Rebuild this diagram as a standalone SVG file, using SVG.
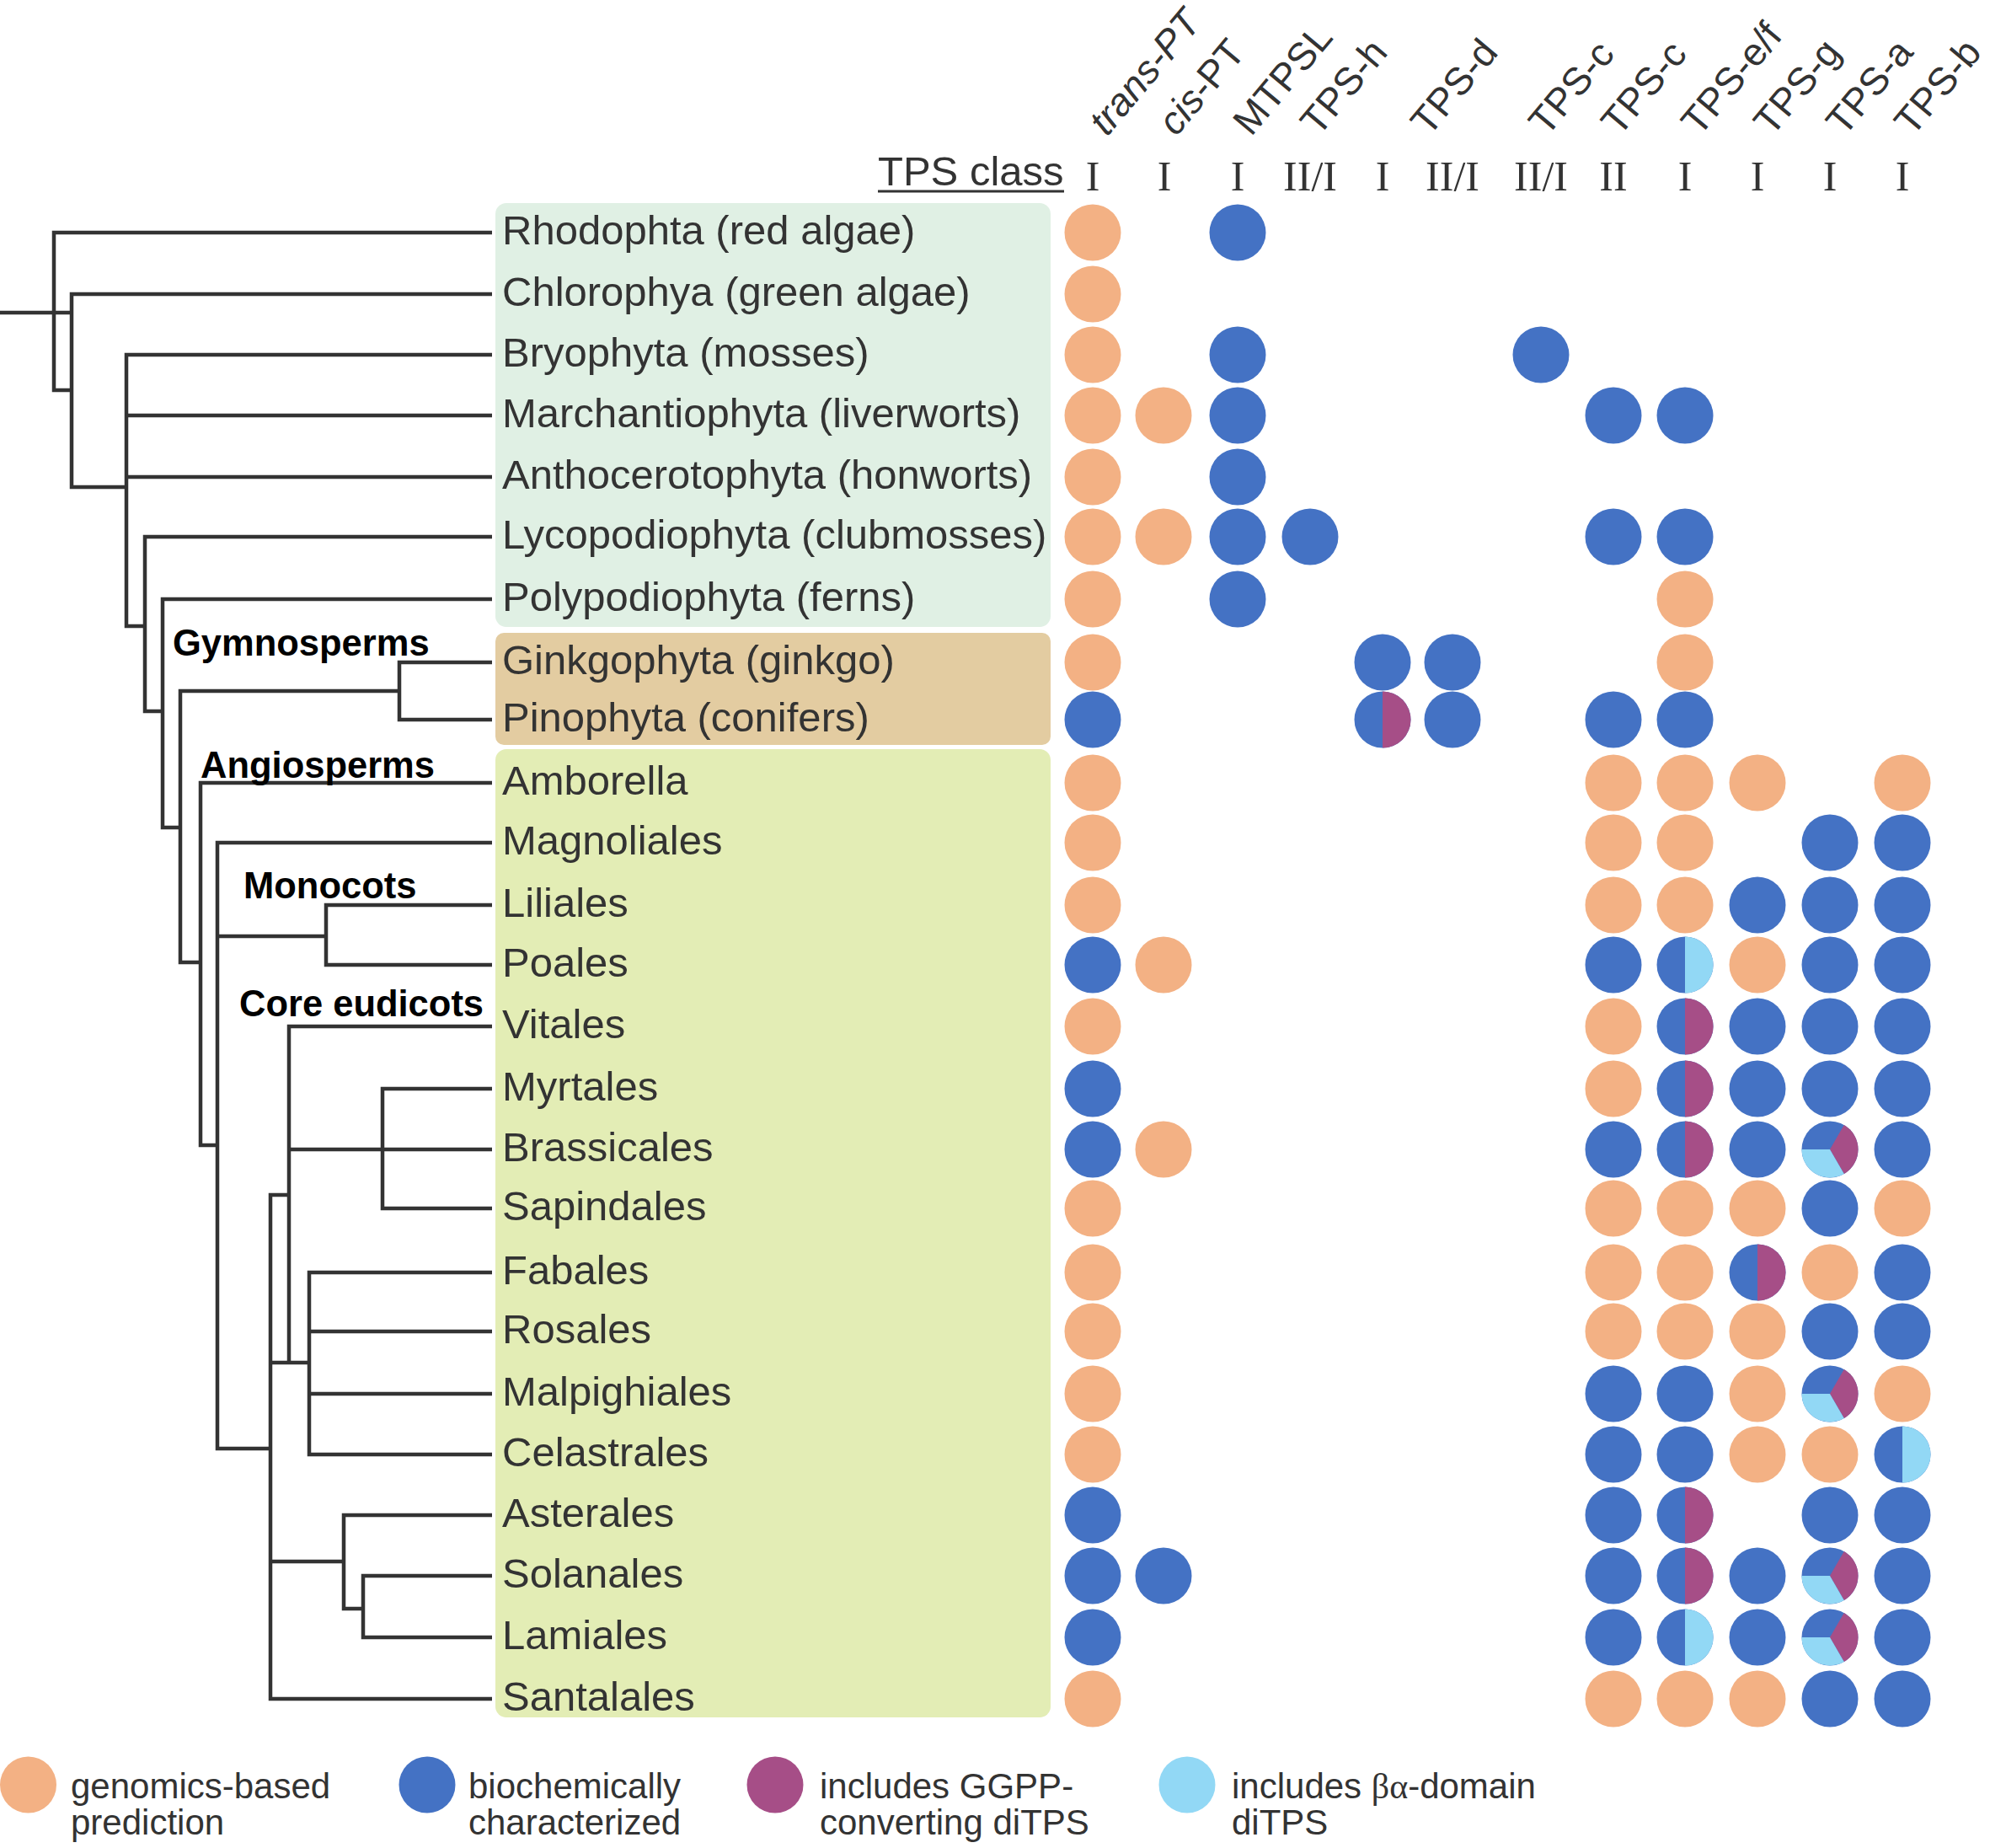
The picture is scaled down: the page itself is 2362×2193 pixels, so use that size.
<svg xmlns="http://www.w3.org/2000/svg" width="2362" height="2193" viewBox="0 0 2362 2193">
<style>
.sp{font-family:"Liberation Sans",Arial,sans-serif;font-size:49px;fill:#333}
.cl{font-family:"Liberation Sans",Arial,sans-serif;font-size:43.5px;font-weight:bold;fill:#000}
.hd{font-family:"Liberation Sans",Arial,sans-serif;font-size:46px;fill:#333}
.rn{font-family:"Liberation Serif","Times New Roman",serif;font-size:50px;fill:#333;text-anchor:middle}
.lg{font-family:"Liberation Sans",Arial,sans-serif;font-size:42px;fill:#333}
.o{fill:#F3B184}.b{fill:#4472C4}.p{fill:#A64E87}.l{fill:#92D8F5}
.tree path{fill:none;stroke:#333;stroke-width:4.5}
</style>
<defs>
<g id="bp"><circle r="33.5" class="b"/><path class="p" d="M0,-33.5 A33.5,33.5 0 0 1 0,33.5 Z"/></g>
<g id="bl"><circle r="33.5" class="b"/><path class="l" d="M0,-33.5 A33.5,33.5 0 0 1 0,33.5 Z"/></g>
<g id="tri"><circle r="33.5" class="b"/><path class="p" d="M0,0 L16.75,-29.01 A33.5,33.5 0 0 1 16.75,29.01 Z"/><path class="l" d="M0,0 L16.75,29.01 A33.5,33.5 0 0 1 -33.5,0 Z"/></g>
</defs>
<rect width="2362" height="2193" fill="#fff"/>

<g id="header">
<text class="hd" font-style="italic" transform="translate(1314,163) rotate(-50)">trans-PT</text>
<text class="hd" transform="translate(1396,163) rotate(-50)"><tspan font-style="italic">cis</tspan>-PT</text>
<text class="hd" transform="translate(1485,163) rotate(-50)">MTPSL</text>
<text class="hd" transform="translate(1565,163) rotate(-50)">TPS-h</text>
<text class="hd" transform="translate(1696,163) rotate(-50)">TPS-d</text>
<text class="hd" transform="translate(1836,163) rotate(-50)">TPS-c</text>
<text class="hd" transform="translate(1922,163) rotate(-50)">TPS-c</text>
<text class="hd" transform="translate(2017,163) rotate(-50)">TPS-e/f</text>
<text class="hd" transform="translate(2103,163) rotate(-50)">TPS-g</text>
<text class="hd" transform="translate(2189,163) rotate(-50)">TPS-a</text>
<text class="hd" transform="translate(2270,163) rotate(-50)">TPS-b</text>
<text class="sp" x="1042" y="220">TPS class</text>
<line x1="1042" y1="227" x2="1263" y2="227" stroke="#333" stroke-width="3"/>
<text class="rn" x="1297" y="226">I</text>
<text class="rn" x="1382" y="226">I</text>
<text class="rn" x="1469" y="226">I</text>
<text class="rn" x="1555" y="226">II/I</text>
<text class="rn" x="1641" y="226">I</text>
<text class="rn" x="1724" y="226">II/I</text>
<text class="rn" x="1829" y="226">II/I</text>
<text class="rn" x="1915" y="226">II</text>
<text class="rn" x="2000" y="226">I</text>
<text class="rn" x="2086" y="226">I</text>
<text class="rn" x="2172" y="226">I</text>
<text class="rn" x="2258" y="226">I</text>
</g>

<g id="panels">
<rect x="588" y="241" width="659" height="503" rx="13" fill="#E0F0E4"/>
<rect x="588" y="751" width="659" height="133" rx="10" fill="#E3CCA1"/>
<rect x="588" y="889" width="659" height="1149" rx="13" fill="#E3EDB5"/>
</g>

<g id="connectors" class="tree">
<path d="M0,371 H85"/>
<path d="M584,276 H64 V463 H85"/>
<path d="M584,349 H85 V578 H150"/>
<path d="M584,421 H150 V743 H172"/>
<path d="M150,493 H584 M150,566 H584"/>
<path d="M584,637 H172 V844 H193"/>
<path d="M584,711 H193 V982 H214"/>
<path d="M474,820 H214 V1142 H238"/>
<path d="M584,786 H474 V854 H584"/>
<path d="M584,929 H238 V1359 H258"/>
<path d="M584,1000 H258 V1719 H321"/>
<path d="M258,1111 H387"/>
<path d="M584,1074 H387 V1145 H584"/>
<path d="M584,1218 H343 V1617"/>
<path d="M343,1364 H584"/>
<path d="M584,1292 H454 V1434 H584"/>
<path d="M343,1418 H321 V2016 H584"/>
<path d="M321,1617 H367"/>
<path d="M584,1510 H367 V1726 H584"/>
<path d="M367,1580 H584 M367,1654 H584"/>
<path d="M321,1853 H408"/>
<path d="M584,1798 H408 V1909 H431"/>
<path d="M584,1870 H431 V1943 H584"/>
</g>

<g id="clades">
<text class="cl" x="205" y="778">Gymnosperms</text>
<text class="cl" x="238" y="923">Angiosperms</text>
<text class="cl" x="289" y="1066">Monocots</text>
<text class="cl" x="284" y="1206">Core eudicots</text>
</g>

<g id="rhodophta"><text class="sp" x="596" y="290">Rhodophta (red algae)</text>
<circle cx="1297" cy="276" r="33.5" class="o"/><circle cx="1469" cy="276" r="33.5" class="b"/></g>
<g id="chlorophya"><text class="sp" x="596" y="363">Chlorophya (green algae)</text>
<circle cx="1297" cy="349" r="33.5" class="o"/></g>
<g id="bryophyta"><text class="sp" x="596" y="435">Bryophyta (mosses)</text>
<circle cx="1297" cy="421" r="33.5" class="o"/><circle cx="1469" cy="421" r="33.5" class="b"/><circle cx="1829" cy="421" r="33.5" class="b"/></g>
<g id="marchantiophyta"><text class="sp" x="596" y="507">Marchantiophyta (liverworts)</text>
<circle cx="1297" cy="493" r="33.5" class="o"/><circle cx="1381" cy="493" r="33.5" class="o"/><circle cx="1469" cy="493" r="33.5" class="b"/><circle cx="1915" cy="493" r="33.5" class="b"/><circle cx="2000" cy="493" r="33.5" class="b"/></g>
<g id="anthocerotophyta"><text class="sp" x="596" y="580">Anthocerotophyta (honworts)</text>
<circle cx="1297" cy="566" r="33.5" class="o"/><circle cx="1469" cy="566" r="33.5" class="b"/></g>
<g id="lycopodiophyta"><text class="sp" x="596" y="651">Lycopodiophyta (clubmosses)</text>
<circle cx="1297" cy="637" r="33.5" class="o"/><circle cx="1381" cy="637" r="33.5" class="o"/><circle cx="1469" cy="637" r="33.5" class="b"/><circle cx="1555" cy="637" r="33.5" class="b"/><circle cx="1915" cy="637" r="33.5" class="b"/><circle cx="2000" cy="637" r="33.5" class="b"/></g>
<g id="polypodiophyta"><text class="sp" x="596" y="725">Polypodiophyta (ferns)</text>
<circle cx="1297" cy="711" r="33.5" class="o"/><circle cx="1469" cy="711" r="33.5" class="b"/><circle cx="2000" cy="711" r="33.5" class="o"/></g>
<g id="ginkgophyta"><text class="sp" x="596" y="800">Ginkgophyta (ginkgo)</text>
<circle cx="1297" cy="786" r="33.5" class="o"/><circle cx="1641" cy="786" r="33.5" class="b"/><circle cx="1724" cy="786" r="33.5" class="b"/><circle cx="2000" cy="786" r="33.5" class="o"/></g>
<g id="pinophyta"><text class="sp" x="596" y="868">Pinophyta (conifers)</text>
<circle cx="1297" cy="854" r="33.5" class="b"/><use href="#bp" x="1641" y="854"/><circle cx="1724" cy="854" r="33.5" class="b"/><circle cx="1915" cy="854" r="33.5" class="b"/><circle cx="2000" cy="854" r="33.5" class="b"/></g>
<g id="amborella"><text class="sp" x="596" y="943">Amborella</text>
<circle cx="1297" cy="929" r="33.5" class="o"/><circle cx="1915" cy="929" r="33.5" class="o"/><circle cx="2000" cy="929" r="33.5" class="o"/><circle cx="2086" cy="929" r="33.5" class="o"/><circle cx="2258" cy="929" r="33.5" class="o"/></g>
<g id="magnoliales"><text class="sp" x="596" y="1014">Magnoliales</text>
<circle cx="1297" cy="1000" r="33.5" class="o"/><circle cx="1915" cy="1000" r="33.5" class="o"/><circle cx="2000" cy="1000" r="33.5" class="o"/><circle cx="2172" cy="1000" r="33.5" class="b"/><circle cx="2258" cy="1000" r="33.5" class="b"/></g>
<g id="liliales"><text class="sp" x="596" y="1088">Liliales</text>
<circle cx="1297" cy="1074" r="33.5" class="o"/><circle cx="1915" cy="1074" r="33.5" class="o"/><circle cx="2000" cy="1074" r="33.5" class="o"/><circle cx="2086" cy="1074" r="33.5" class="b"/><circle cx="2172" cy="1074" r="33.5" class="b"/><circle cx="2258" cy="1074" r="33.5" class="b"/></g>
<g id="poales"><text class="sp" x="596" y="1159">Poales</text>
<circle cx="1297" cy="1145" r="33.5" class="b"/><circle cx="1381" cy="1145" r="33.5" class="o"/><circle cx="1915" cy="1145" r="33.5" class="b"/><use href="#bl" x="2000" y="1145"/><circle cx="2086" cy="1145" r="33.5" class="o"/><circle cx="2172" cy="1145" r="33.5" class="b"/><circle cx="2258" cy="1145" r="33.5" class="b"/></g>
<g id="vitales"><text class="sp" x="596" y="1232">Vitales</text>
<circle cx="1297" cy="1218" r="33.5" class="o"/><circle cx="1915" cy="1218" r="33.5" class="o"/><use href="#bp" x="2000" y="1218"/><circle cx="2086" cy="1218" r="33.5" class="b"/><circle cx="2172" cy="1218" r="33.5" class="b"/><circle cx="2258" cy="1218" r="33.5" class="b"/></g>
<g id="myrtales"><text class="sp" x="596" y="1306">Myrtales</text>
<circle cx="1297" cy="1292" r="33.5" class="b"/><circle cx="1915" cy="1292" r="33.5" class="o"/><use href="#bp" x="2000" y="1292"/><circle cx="2086" cy="1292" r="33.5" class="b"/><circle cx="2172" cy="1292" r="33.5" class="b"/><circle cx="2258" cy="1292" r="33.5" class="b"/></g>
<g id="brassicales"><text class="sp" x="596" y="1378">Brassicales</text>
<circle cx="1297" cy="1364" r="33.5" class="b"/><circle cx="1381" cy="1364" r="33.5" class="o"/><circle cx="1915" cy="1364" r="33.5" class="b"/><use href="#bp" x="2000" y="1364"/><circle cx="2086" cy="1364" r="33.5" class="b"/><use href="#tri" x="2172" y="1364"/><circle cx="2258" cy="1364" r="33.5" class="b"/></g>
<g id="sapindales"><text class="sp" x="596" y="1448">Sapindales</text>
<circle cx="1297" cy="1434" r="33.5" class="o"/><circle cx="1915" cy="1434" r="33.5" class="o"/><circle cx="2000" cy="1434" r="33.5" class="o"/><circle cx="2086" cy="1434" r="33.5" class="o"/><circle cx="2172" cy="1434" r="33.5" class="b"/><circle cx="2258" cy="1434" r="33.5" class="o"/></g>
<g id="fabales"><text class="sp" x="596" y="1524">Fabales</text>
<circle cx="1297" cy="1510" r="33.5" class="o"/><circle cx="1915" cy="1510" r="33.5" class="o"/><circle cx="2000" cy="1510" r="33.5" class="o"/><use href="#bp" x="2086" y="1510"/><circle cx="2172" cy="1510" r="33.5" class="o"/><circle cx="2258" cy="1510" r="33.5" class="b"/></g>
<g id="rosales"><text class="sp" x="596" y="1594">Rosales</text>
<circle cx="1297" cy="1580" r="33.5" class="o"/><circle cx="1915" cy="1580" r="33.5" class="o"/><circle cx="2000" cy="1580" r="33.5" class="o"/><circle cx="2086" cy="1580" r="33.5" class="o"/><circle cx="2172" cy="1580" r="33.5" class="b"/><circle cx="2258" cy="1580" r="33.5" class="b"/></g>
<g id="malpighiales"><text class="sp" x="596" y="1668">Malpighiales</text>
<circle cx="1297" cy="1654" r="33.5" class="o"/><circle cx="1915" cy="1654" r="33.5" class="b"/><circle cx="2000" cy="1654" r="33.5" class="b"/><circle cx="2086" cy="1654" r="33.5" class="o"/><use href="#tri" x="2172" y="1654"/><circle cx="2258" cy="1654" r="33.5" class="o"/></g>
<g id="celastrales"><text class="sp" x="596" y="1740">Celastrales</text>
<circle cx="1297" cy="1726" r="33.5" class="o"/><circle cx="1915" cy="1726" r="33.5" class="b"/><circle cx="2000" cy="1726" r="33.5" class="b"/><circle cx="2086" cy="1726" r="33.5" class="o"/><circle cx="2172" cy="1726" r="33.5" class="o"/><use href="#bl" x="2258" y="1726"/></g>
<g id="asterales"><text class="sp" x="596" y="1812">Asterales</text>
<circle cx="1297" cy="1798" r="33.5" class="b"/><circle cx="1915" cy="1798" r="33.5" class="b"/><use href="#bp" x="2000" y="1798"/><circle cx="2172" cy="1798" r="33.5" class="b"/><circle cx="2258" cy="1798" r="33.5" class="b"/></g>
<g id="solanales"><text class="sp" x="596" y="1884">Solanales</text>
<circle cx="1297" cy="1870" r="33.5" class="b"/><circle cx="1381" cy="1870" r="33.5" class="b"/><circle cx="1915" cy="1870" r="33.5" class="b"/><use href="#bp" x="2000" y="1870"/><circle cx="2086" cy="1870" r="33.5" class="b"/><use href="#tri" x="2172" y="1870"/><circle cx="2258" cy="1870" r="33.5" class="b"/></g>
<g id="lamiales"><text class="sp" x="596" y="1957">Lamiales</text>
<circle cx="1297" cy="1943" r="33.5" class="b"/><circle cx="1915" cy="1943" r="33.5" class="b"/><use href="#bl" x="2000" y="1943"/><circle cx="2086" cy="1943" r="33.5" class="b"/><use href="#tri" x="2172" y="1943"/><circle cx="2258" cy="1943" r="33.5" class="b"/></g>
<g id="santalales"><text class="sp" x="596" y="2030">Santalales</text>
<circle cx="1297" cy="2016" r="33.5" class="o"/><circle cx="1915" cy="2016" r="33.5" class="o"/><circle cx="2000" cy="2016" r="33.5" class="o"/><circle cx="2086" cy="2016" r="33.5" class="o"/><circle cx="2172" cy="2016" r="33.5" class="b"/><circle cx="2258" cy="2016" r="33.5" class="b"/></g>

<g id="legend">
<circle cx="33.5" cy="2118" r="33.5" class="o"/>
<text class="lg" x="84" y="2134">genomics-based<tspan x="84" dy="43">prediction</tspan></text>
<circle cx="507" cy="2118" r="33.5" class="b"/>
<text class="lg" x="556" y="2134">biochemically<tspan x="556" dy="43">characterized</tspan></text>
<circle cx="920" cy="2118" r="33.5" class="p"/>
<text class="lg" x="973" y="2134">includes GGPP-<tspan x="973" dy="43">converting diTPS</tspan></text>
<circle cx="1409" cy="2118" r="33.5" class="l"/>
<text class="lg" x="1462" y="2134">includes <tspan font-family="Liberation Serif,serif">βα</tspan>-domain<tspan x="1462" dy="43">diTPS</tspan></text>
</g>
</svg>
